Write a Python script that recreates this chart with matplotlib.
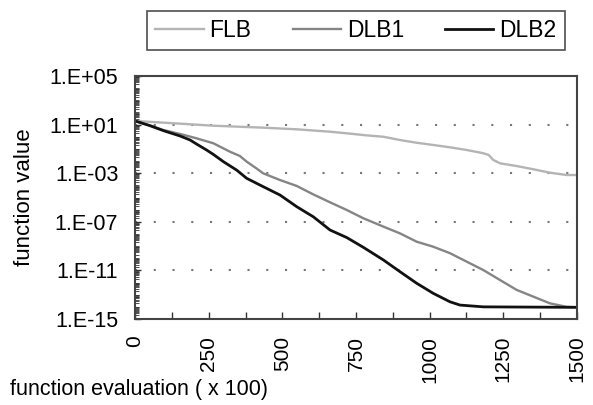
import matplotlib
matplotlib.use("Agg")
import matplotlib.pyplot as plt
from matplotlib.ticker import FixedLocator, LogLocator, NullFormatter, FixedFormatter

plt.rcParams['font.family'] = ['Liberation Sans', 'DejaVu Sans']

# ---- data ----
flb_x = [0, 96, 266, 435, 549, 662, 730, 786, 843, 899, 956, 1012, 1069, 1126, 1182,
         1200, 1216, 1239, 1295, 1352, 1408, 1465, 1500]
flb_y = [20, 14.5, 8.1, 5.6, 4.1, 2.6, 1.8, 1.3, 1.0, 0.54, 0.32, 0.21, 0.135, 0.081,
         0.044, 0.032, 0.0123, 6.5e-3, 3.9e-3, 2.1e-3, 1.1e-3, 7.1e-4, 7.1e-4]

dlb1_x = [0, 51, 96, 153, 209, 266, 322, 356, 379, 412, 435, 492, 549, 605, 662, 719,
          775, 843, 899, 956, 1012, 1069, 1126, 1182, 1239, 1295, 1352, 1408, 1465, 1500]
dlb1_y = [20, 8.5, 3.6, 1.7, 0.74, 0.29, 0.059, 0.026, 8.9e-3, 2.5e-3, 9.8e-4, 2.75e-4,
          8.9e-5, 1.8e-5, 4.0e-6, 9.3e-7, 1.95e-7, 4.0e-8, 1.12e-8, 2.3e-9, 8.9e-10,
          2.6e-10, 5.2e-11, 1.07e-11, 1.6e-12, 2.5e-13, 6.9e-14, 1.95e-14, 1.0e-14, 9.5e-15]

dlb2_x = [0, 51, 96, 153, 187, 209, 243, 266, 300, 345, 379, 435, 492, 549, 605, 662,
          719, 775, 843, 899, 956, 1012, 1069, 1103, 1182, 1500]
dlb2_y = [20, 8.1, 3.2, 1.15, 0.54, 0.25, 0.081, 0.035, 8.9e-3, 1.8e-3, 3.8e-4, 7.8e-5,
          1.6e-5, 1.74e-6, 2.6e-7, 2.1e-8, 5.0e-9, 7.9e-10, 7.2e-11, 7.9e-12, 8.7e-13,
          1.3e-13, 2.6e-14, 1.4e-14, 1.0e-14, 9.1e-15]

series_names = ["FLB", "DLB1", "DLB2"]
x_ticks = [0, 250, 500, 750, 1000, 1250, 1500]
x_minor_ticks = [125, 375, 625, 875, 1125, 1375]
y_ticks = [1e-15, 1e-11, 1e-07, 1e-03, 1e+01, 1e+05]
y_tick_labels = ["1.E-15", "1.E-11", "1.E-07", "1.E-03", "1.E+01", "1.E+05"]
x_label = "function evaluation ( x 100)"
y_label = "function value"

# ---- figure ----
fig = plt.figure(figsize=(5.93, 4.05), dpi=100)
ax = fig.add_axes([135/593, 1-319/405, (577-135)/593, (319-76)/405])

l1, = ax.plot(flb_x, flb_y, color='#b4b4b4', lw=1.7, label=series_names[0])
l2, = ax.plot(dlb1_x, dlb1_y, color='#858585', lw=1.7, label=series_names[1])
l3, = ax.plot(dlb2_x, dlb2_y, color='#111111', lw=2.0, label=series_names[2])

ax.set_yscale('log')
ax.set_xlim(0, 1500)
ax.set_ylim(1e-15, 1e5)

ax.yaxis.set_major_locator(FixedLocator(y_ticks))
ax.yaxis.set_major_formatter(FixedFormatter(y_tick_labels))
ax.yaxis.set_minor_locator(LogLocator(base=10, subs=[1, 2, 3, 4, 5, 6, 7, 8, 9], numticks=100))
ax.yaxis.set_minor_formatter(NullFormatter())

ax.xaxis.set_major_locator(FixedLocator(x_ticks))
ax.xaxis.set_minor_locator(FixedLocator(x_minor_ticks))

ax.tick_params(axis='both', which='both', direction='in', color='#333333')
ax.tick_params(axis='y', which='major', length=4, width=1, labelsize=15.5, pad=12)
ax.tick_params(axis='y', which='minor', length=3, width=0.6)
ax.tick_params(axis='x', which='major', length=5, width=1, labelsize=15, pad=12,
               labelrotation=90)
ax.tick_params(axis='x', which='minor', length=5, width=1)

for lab in ax.get_xticklabels():
    lab.set_va('top')

for sp in ax.spines.values():
    sp.set_color('#444444')
    sp.set_linewidth(1.5)

# dotted gridlines at inner major ticks
for yv in y_ticks[1:-1]:
    ax.axhline(yv, color='#777777', lw=1.5, linestyle=(0, (1, 8)), zorder=0)

fig.text(25/593, 1-197/405, y_label, rotation=90, ha='center', va='center', fontsize=16)
fig.text(10/593, 1-390/405, x_label, ha='left', va='center', fontsize=15.5)

leg = fig.legend(handles=[l1, l2, l3], loc='center', ncol=3,
                 bbox_to_anchor=(356/593, 1-30.5/405), fontsize=16.5,
                 frameon=True, fancybox=False, edgecolor='#222222',
                 handlelength=2.1, handletextpad=0.26, columnspacing=1.8,
                 borderpad=0.35, borderaxespad=0)
leg.get_frame().set_linewidth(1.2)

fig.savefig("out.png", dpi=100)
